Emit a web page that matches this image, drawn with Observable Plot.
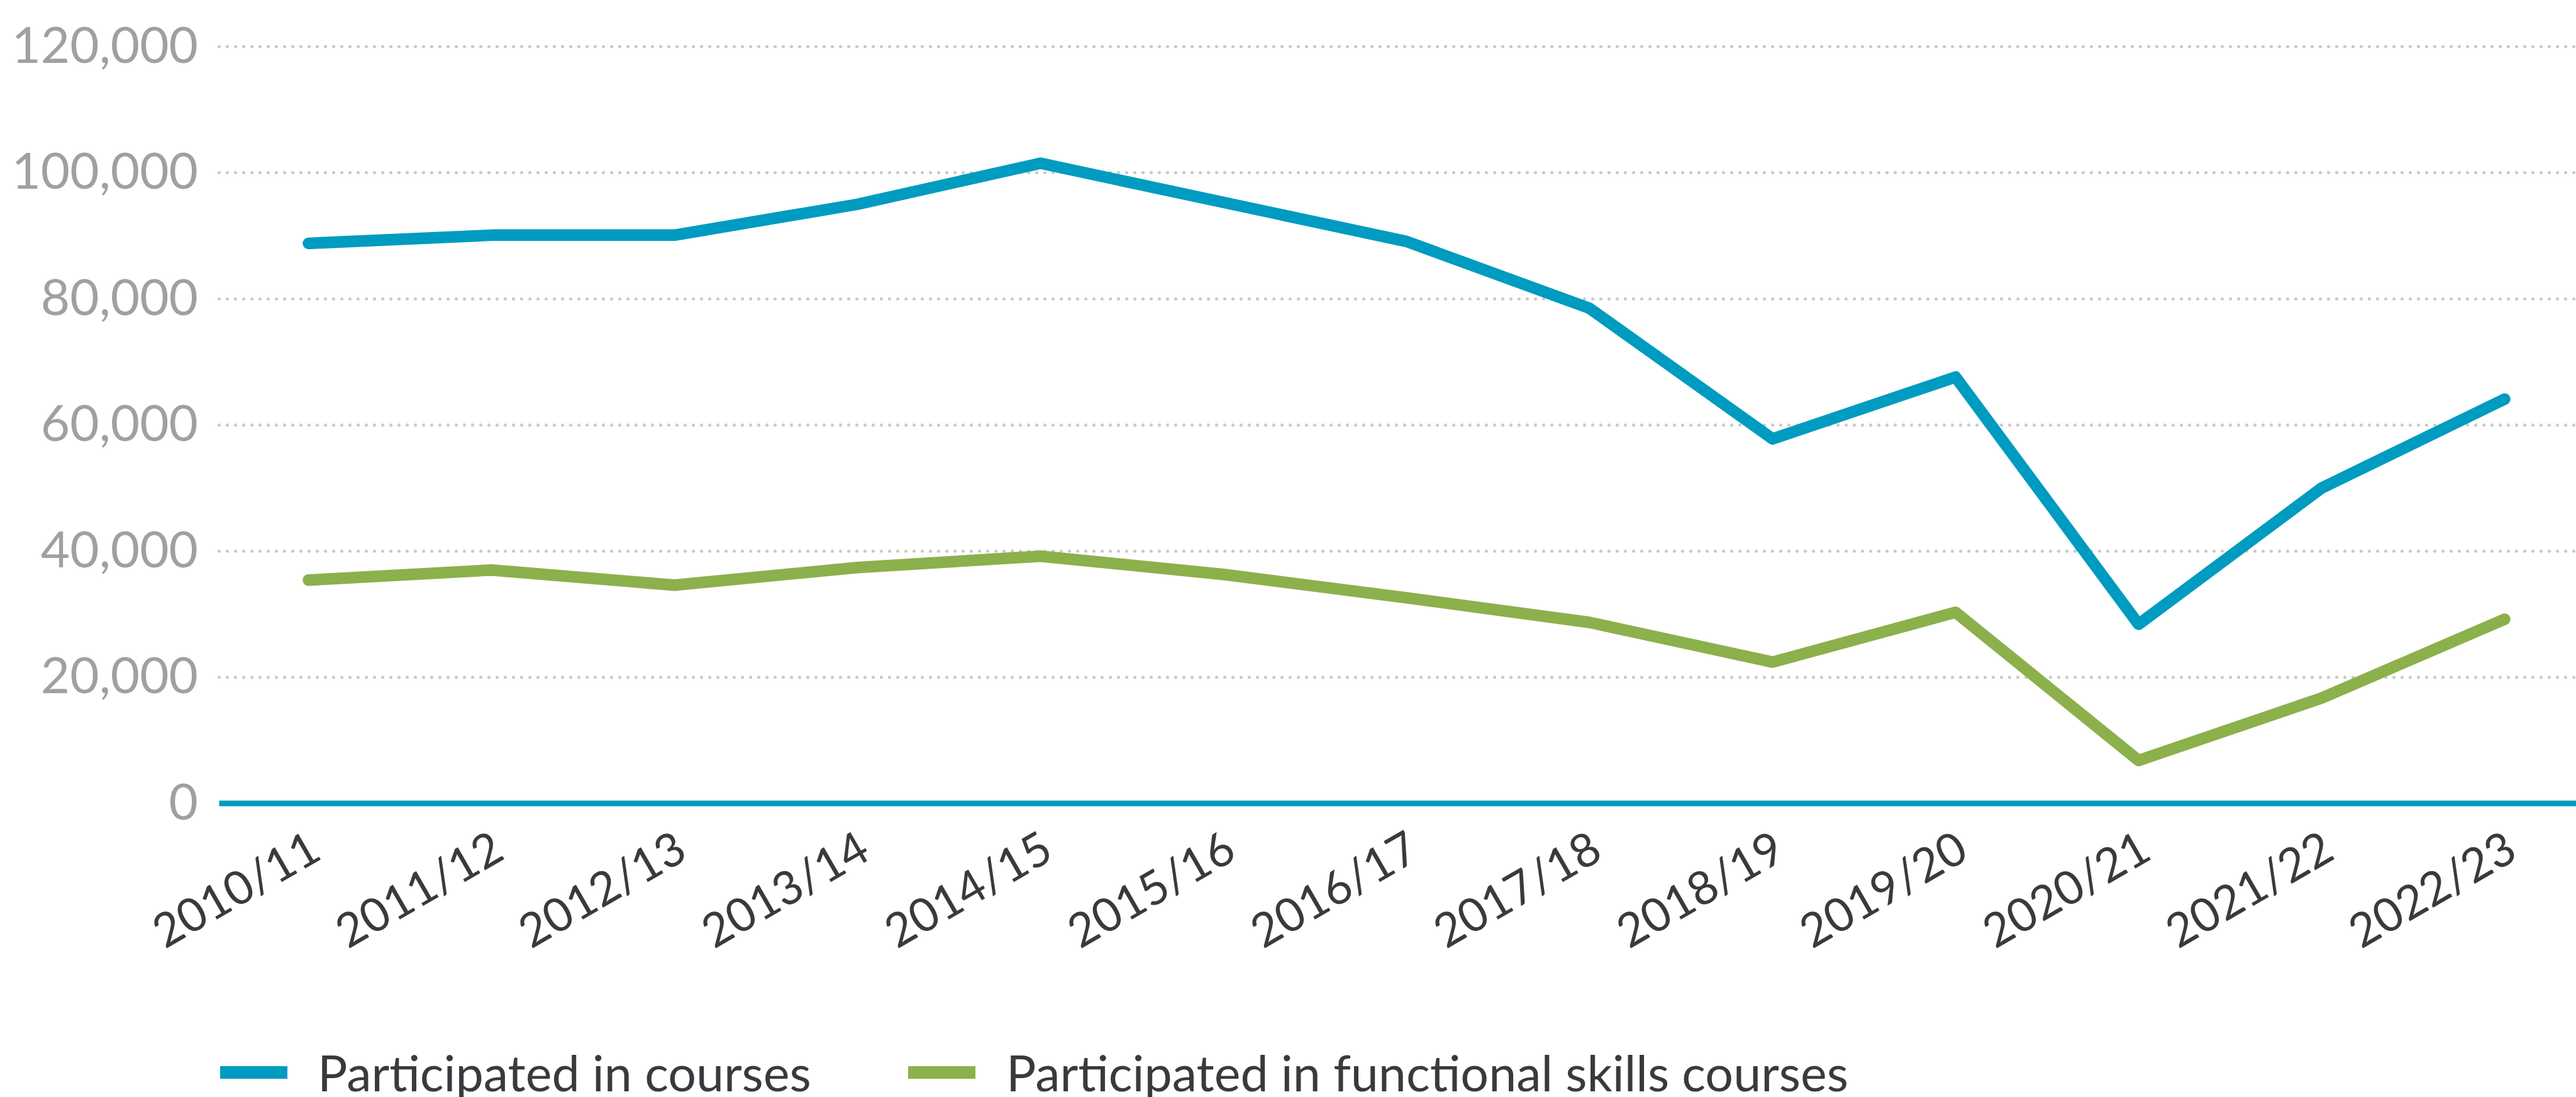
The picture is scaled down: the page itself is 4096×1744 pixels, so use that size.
<!DOCTYPE html>
<html><head><meta charset="utf-8">
<script src="https://cdn.jsdelivr.net/npm/d3@7"></script>
<script src="https://cdn.jsdelivr.net/npm/@observablehq/plot@0.6"></script>
<style>
html,body{margin:0;padding:0;background:#fff;}
body{width:4096px;height:1744px;overflow:hidden;position:relative;font-family:Lato, "Open Sans", sans-serif;}
#chart svg{display:block;}
.item{position:absolute;display:flex;align-items:center;height:80px;}
.sw{width:107px;height:20px;flex:none;}
.lab{font-size:79px;line-height:80px;color:#3a393d;white-space:nowrap;}
</style></head><body>
<div id="chart"></div>
<div id="legend"></div>
<script>
const years = ["2010/11","2011/12","2012/13","2013/14","2014/15","2015/16","2016/17","2017/18","2018/19","2019/20","2020/21","2021/22","2022/23"];
const courses = [88800, 90100, 90100, 95000, 101500, 95300, 89100, 78500, 57800, 67600, 28400, 50000, 64100];
const functional = [35400, 37000, 34600, 37400, 39200, 36300, 32600, 28700, 22400, 30300, 6800, 16700, 29200];
const yTicks = [0, 20000, 40000, 60000, 80000, 100000, 120000];
const seriesNames = ["Participated in courses", "Participated in functional skills courses"];
const seriesColors = ["#009bc0", "#8cb04b"];

const data = years.flatMap((y, i) => [
  {year: y, value: courses[i], series: seriesNames[0]},
  {year: y, value: functional[i], series: seriesNames[1]}
]);

const W = 4096, H = 1650;
const plot = Plot.plot({
  width: W, height: H,
  marginLeft: 348.5, marginRight: 0, marginTop: 73.6, marginBottom: H - 1276.7,
  style: {fontFamily: "Lato, 'Open Sans', sans-serif", background: "#fff", overflow: "visible"},
  x: {type: "point", domain: years, padding: 0, insetLeft: 140.4, insetRight: 112.6, label: null},
  y: {domain: [0, 120000], label: null},
  color: {domain: seriesNames, range: seriesColors},
  marks: [
    Plot.ruleY(yTicks.filter(d => d > 0), {stroke: "#c9c9c9", strokeWidth: 5, strokeDasharray: "0,13", strokeLinecap: "round"}),
    Plot.ruleY([0], {stroke: "#009bc0", strokeWidth: 9}),
    Plot.axisY({ticks: yTicks, tickFormat: d3.format(","), tickSize: 0, tickPadding: 34, fontSize: 80, color: "#a0a0a3", label: null}),
    Plot.axisX({tickSize: 0, tickPadding: 0, tickRotate: -30, textAnchor: "end", lineAnchor: "middle", dx: 12, dy: 66, fontSize: 74, color: "#3a393d", label: null}),
    Plot.line(data, {x: "year", y: "value", z: "series", stroke: "series", strokeWidth: 18.5, strokeLinecap: "round", strokeLinejoin: "round"})
  ]
});
document.getElementById("chart").appendChild(plot);

const legendPos = [{sw: 350, text: 505}, {sw: 1444, text: 1600}];
const legend = document.getElementById("legend");
seriesNames.forEach((name, i) => {
  const item = document.createElement("div");
  item.className = "item";
  item.style.left = legendPos[i].sw + "px";
  item.style.top = (1705 - 40) + "px";
  const sw = document.createElement("div");
  sw.className = "sw";
  sw.style.background = seriesColors[i];
  const lab = document.createElement("div");
  lab.className = "lab";
  lab.style.marginLeft = (legendPos[i].text - legendPos[i].sw - 107) + "px";
  lab.textContent = name;
  item.appendChild(sw);
  item.appendChild(lab);
  legend.appendChild(item);
});
</script>
</body></html>
